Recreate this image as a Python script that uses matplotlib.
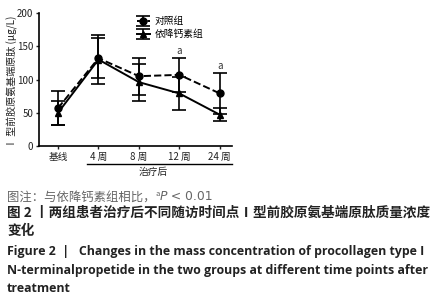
import numpy as np
import matplotlib
matplotlib.use("Agg")
import matplotlib.pyplot as plt
from matplotlib.lines import Line2D

plt.rcParams['font.family'] = ['Noto Sans CJK SC', 'DejaVu Sans']

# 数据
categories = ['基线', '4 周', '8 周', '12 周', '24 周']
control_mean = [57, 132, 105, 107, 79]
control_err = [25, 30, 28, 26, 31]
treat_mean = [50, 130, 96, 79, 47]
treat_err = [18, 37, 28, 25, 10]
sig_marks = ['', '', '', 'a', 'a']

W, H = 441, 300
fig = plt.figure(figsize=(W / 100, H / 100), dpi=100)

def px(x0, y0, x1, y1):
    return [x0 / W, 1 - y1 / H, (x1 - x0) / W, (y1 - y0) / H]

ax = fig.add_axes(px(39, 13, 232, 146))
x = np.arange(len(categories))

ax.errorbar(x, control_mean, yerr=control_err, fmt='--o', color='black',
            lw=1.4, ms=5, capsize=5, capthick=1.2, elinewidth=1.2,
            label='对照组')
ax.errorbar(x, treat_mean, yerr=treat_err, fmt='-^', color='black',
            lw=1.4, ms=5, capsize=5, capthick=1.2, elinewidth=1.2,
            label='依降钙素组')

for xi, m, e, s in zip(x, control_mean, control_err, sig_marks):
    if s:
        ax.text(xi, m + e + 3, s, ha='center', va='bottom', fontsize=7,
                color='#333333')

ax.set_xlim(-0.47, 4.3)
ax.set_ylim(0, 200)
ax.set_yticks([0, 50, 100, 150, 200])
ax.set_xticks(x)
ax.set_xticklabels(categories)
ax.tick_params(labelsize=7, length=2.5, width=1, pad=1.5, colors='#222222')
for s in ['top', 'right']:
    ax.spines[s].set_visible(False)
for s in ['left', 'bottom']:
    ax.spines[s].set_linewidth(1.2)
ax.set_ylabel('Ⅰ 型前胶原氨基端原肽 (μg/L)', fontsize=7.2, color='#222222')
ax.yaxis.set_label_coords(-0.11, 0.48)

ax.legend(loc='upper left', bbox_to_anchor=(0.46, 1.04), frameon=False,
          fontsize=7, handlelength=1.4, handletextpad=0.5,
          labelspacing=0.3)

# 治疗后 下划线
fig.add_artist(Line2D([87 / W, 232 / W], [1 - 164 / H, 1 - 164 / H],
                      color='black', lw=1))
fig.text(153 / W, 1 - 172 / H, '治疗后', ha='center', va='center',
         fontsize=7, color='#222222')

# 图注
grey = '#666666'
fs1 = 8.9
t1 = fig.text(7 / W, 1 - 197 / H, '图注：与依降钙素组相比，', fontsize=fs1,
              color=grey, va='center')
fig.canvas.draw()
r = fig.canvas.get_renderer()
bb = t1.get_window_extent(r)
t2 = fig.text(bb.x1 / fig.bbox.width, 1 - 194 / H, 'a', fontsize=5.5,
              color=grey, va='center')
bb = t2.get_window_extent(r)
t3 = fig.text(bb.x1 / fig.bbox.width, 1 - 197 / H, 'P', fontsize=fs1,
              color=grey, va='center', style='italic', family='DejaVu Sans')
bb = t3.get_window_extent(r)
fig.text(bb.x1 / fig.bbox.width, 1 - 197 / H, ' < 0.01', fontsize=fs1,
         color=grey, va='center', family='DejaVu Sans')

dark = '#222222'
fig.text(7 / W, 1 - 213 / H,
         '图 2 丨两组患者治疗后不同随访时间点Ⅰ型前胶原氨基端原肽质量浓度',
         fontsize=9.8, color=dark, va='center', weight='bold')
fig.text(7 / W, 1 - 231 / H, '变化', fontsize=9.8, color=dark,
         va='center', weight='bold')

eng = ['Figure 2  |   Changes in the mass concentration of procollagen type I',
       'N-terminalpropetide in the two groups at different time points after',
       'treatment']
for i, line in enumerate(eng):
    fig.text(7 / W, 1 - (252 + i * 18.5) / H, line, fontsize=8.9,
             color=dark, va='center', weight='bold', family='Open Sans')

fig.savefig('out.png', dpi=100)
